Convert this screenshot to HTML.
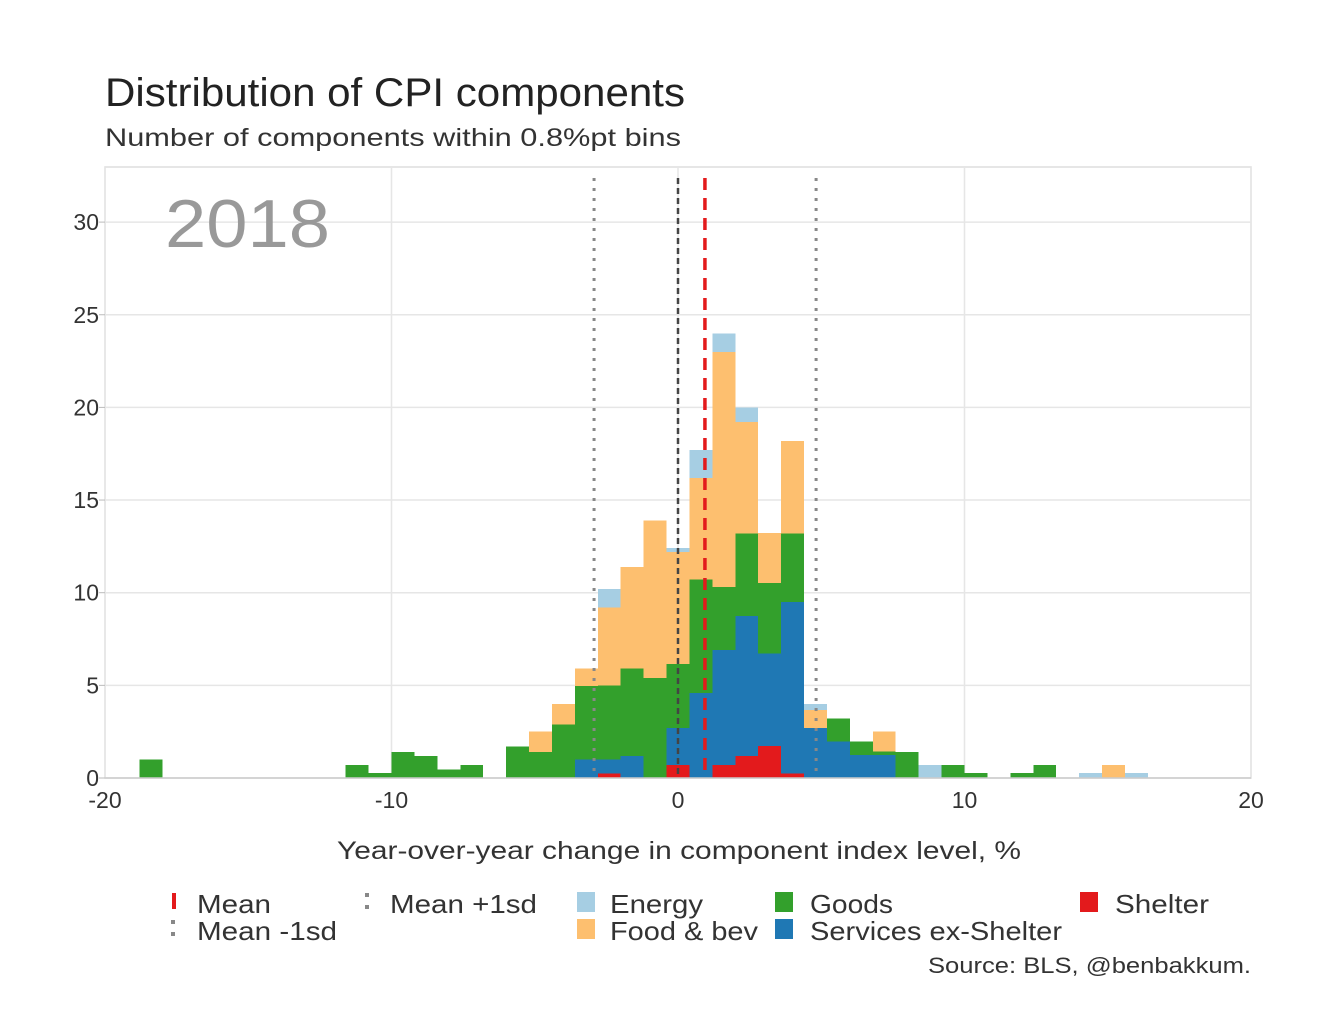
<!DOCTYPE html>
<html><head><meta charset="utf-8"><style>
html,body{margin:0;padding:0;background:#fff;}
svg{display:block;font-family:"Liberation Sans",sans-serif;}
</style></head><body>
<svg id="chart" width="1344" height="1022" viewBox="0 0 1344 1022">
<text x="105" y="106" font-size="40" fill="#222" textLength="580" lengthAdjust="spacingAndGlyphs">Distribution of CPI components</text>
<text x="105" y="146" font-size="25" fill="#333" textLength="576" lengthAdjust="spacingAndGlyphs">Number of components within 0.8%pt bins</text>
<g id="grid"></g>
<g id="bars"></g>
<g id="lines"></g>
<g id="axes"></g>
<text x="165" y="247" font-size="68" fill="#999" textLength="165" lengthAdjust="spacingAndGlyphs">2018</text>
<text x="337" y="859" font-size="25" fill="#333" textLength="684" lengthAdjust="spacingAndGlyphs">Year-over-year change in component index level, %</text>
<g id="legend" font-size="26" fill="#333"></g>
<text x="928" y="973" font-size="22" fill="#333" textLength="323" lengthAdjust="spacingAndGlyphs">Source: BLS, @benbakkum.</text>
</svg>
<script>
const binStarts = [-18.8,-11.6,-10.8,-10.0,-9.2,-8.4,-7.6,-6.0,-5.2,-4.4,-3.6,-2.8,-2.0,-1.2,-0.4,0.4,1.2,2.0,2.8,3.6,4.4,5.2,6.0,6.8,7.6,8.4,9.2,10.0,11.6,12.4,14.0,14.8,15.6];
const shelter  = [0,0,0,0,0,0,0,0,0,0,0,0.25,0,0,0.7,0,0.7,1.2,1.73,0.25,0,0,0,0,0,0,0,0,0,0,0,0,0];
const services = [0,0,0,0,0,0,0,0,0,0,1.0,0.75,1.2,0,2.0,4.6,6.2,7.55,5.0,9.25,2.7,1.96,1.24,1.24,0,0,0,0,0,0,0,0,0];
const goods    = [1.0,0.7,0.27,1.4,1.2,0.45,0.7,1.7,1.4,2.9,3.96,4.0,4.7,5.4,3.45,6.1,3.4,4.45,3.8,3.7,0,1.24,0.72,0.18,1.4,0,0.7,0.27,0.27,0.7,0,0,0];
const foodBev  = [0,0,0,0,0,0,0,0,1.1,1.1,0.94,4.2,5.5,8.5,6.05,5.5,12.7,6.0,2.7,5.0,0.97,0,0,1.08,0,0,0,0,0,0,0,0.7,0];
const energy   = [0,0,0,0,0,0,0,0,0,0,0,1.0,0,0,0.2,1.5,1.0,0.8,0,0,0.33,0,0,0,0,0.7,0,0,0,0,0.27,0,0.27];
const binWidth = 0.8;
const meanVal = 0.94, sdLow = -2.93, sdHigh = 4.82;
const xTicks = [-20,-10,0,10,20];
const yTicks = [0,5,10,15,20,25,30];

const NS="http://www.w3.org/2000/svg";
const X0=105,X1=1251,Y0=778,YT=167;
const xS=v=>X0+(v+20)/40*(X1-X0);
const yS=v=>Y0-v*18.53;
function mk(tag,attrs,parent){const e=document.createElementNS(NS,tag);for(const k in attrs)e.setAttribute(k,attrs[k]);parent.appendChild(e);return e;}
const grid=document.getElementById('grid'),bars=document.getElementById('bars'),lines=document.getElementById('lines'),axes=document.getElementById('axes'),legend=document.getElementById('legend');
mk('rect',{x:X0,y:YT,width:X1-X0,height:Y0-YT,fill:'none',stroke:'#ddd','stroke-width':1.5},grid);
yTicks.forEach(t=>{
  if(t>0){const l=mk('line',{x1:X0,x2:X1,y1:yS(t),y2:yS(t),stroke:'#e6e6e6','stroke-width':1.5},grid);
  
  }
  mk('line',{x1:X0-6,x2:X0,y1:yS(t),y2:yS(t),stroke:'#bbb'},axes);
  const tx=mk('text',{x:X0-6,y:yS(t)+8,'font-size':23,fill:'#333','text-anchor':'end'},axes);
  tx.textContent=t;
  
  
});
xTicks.forEach(t=>{
  const l=mk('line',{x1:xS(t),x2:xS(t),y1:YT,y2:Y0,stroke:'#e6e6e6','stroke-width':1.5},grid);
  
  
  const tx=mk('text',{x:xS(t),y:808,'font-size':23,fill:'#333','text-anchor':'middle'},axes);
  tx.textContent=t;
  
  
});
mk('line',{x1:X0,x2:X1,y1:Y0,y2:Y0,stroke:'#ccc','stroke-width':1.5},axes);
const series=[[shelter,'#e31a1c','shelter'],[services,'#1f78b4','services'],[goods,'#33a02c','goods'],[foodBev,'#fdbf6f','food-bev'],[energy,'#a6cee3','energy']];
binStarts.forEach((b,i)=>{
  let cum=0;
  series.forEach(([arr,col,nm])=>{
    const v=arr[i]; if(!v) return;
    const r=mk('rect',{x:xS(b),width:xS(b+binWidth)-xS(b),y:yS(cum+v),height:yS(cum)-yS(cum+v),fill:col,'shape-rendering':'crispEdges'},bars);
    
    
    cum+=v;
  });
});
function vline(v,col,dash,w,name){
  const l=mk('line',{x1:xS(v),x2:xS(v),y1:178,y2:Y0,stroke:col,'stroke-width':w,'stroke-dasharray':dash},lines);
  
  
}
vline(0,'#444','6,4',2.5,'zero-line');
vline(sdLow,'#888','3,7',3,'mean-minus-1sd-line');
vline(sdHigh,'#888','3,7',3,'mean-plus-1sd-line');
vline(meanVal,'#e31a1c','12,8',3.5,'mean-line');
function legItem(x,tx,y,label,len,kind,col,name){
  const g=mk('g',{},legend);
  
  
  if(kind==='sq') mk('rect',{x:x,y:y-21,width:18,height:20,fill:col},g);
  else if(kind==='dash') mk('rect',{x:x+6,y:y-20,width:4,height:16,fill:col},g);
  else { mk('rect',{x:x+5,y:y-20,width:4,height:4,fill:col},g); mk('rect',{x:x+5,y:y-8,width:4,height:4,fill:col},g); }
  const t=mk('text',{x:tx,y:y,textLength:len,lengthAdjust:'spacingAndGlyphs'},g); t.textContent=label;
}
legItem(166,197,913,'Mean',74,'dash','#e31a1c','legend-mean');
legItem(166,197,940,'Mean -1sd',140,'dot','#888','legend-mean-minus-1sd');
legItem(360,390,913,'Mean +1sd',147,'dot','#888','legend-mean-plus-1sd');
legItem(577,610,913,'Energy',93,'sq','#a6cee3','legend-energy');
legItem(577,610,940,'Food & bev',148,'sq','#fdbf6f','legend-food-bev');
legItem(775,810,913,'Goods',83,'sq','#33a02c','legend-goods');
legItem(775,810,940,'Services ex-Shelter',252,'sq','#1f78b4','legend-services');
legItem(1080,1115,913,'Shelter',94,'sq','#e31a1c','legend-shelter');
</script>
</body></html>
